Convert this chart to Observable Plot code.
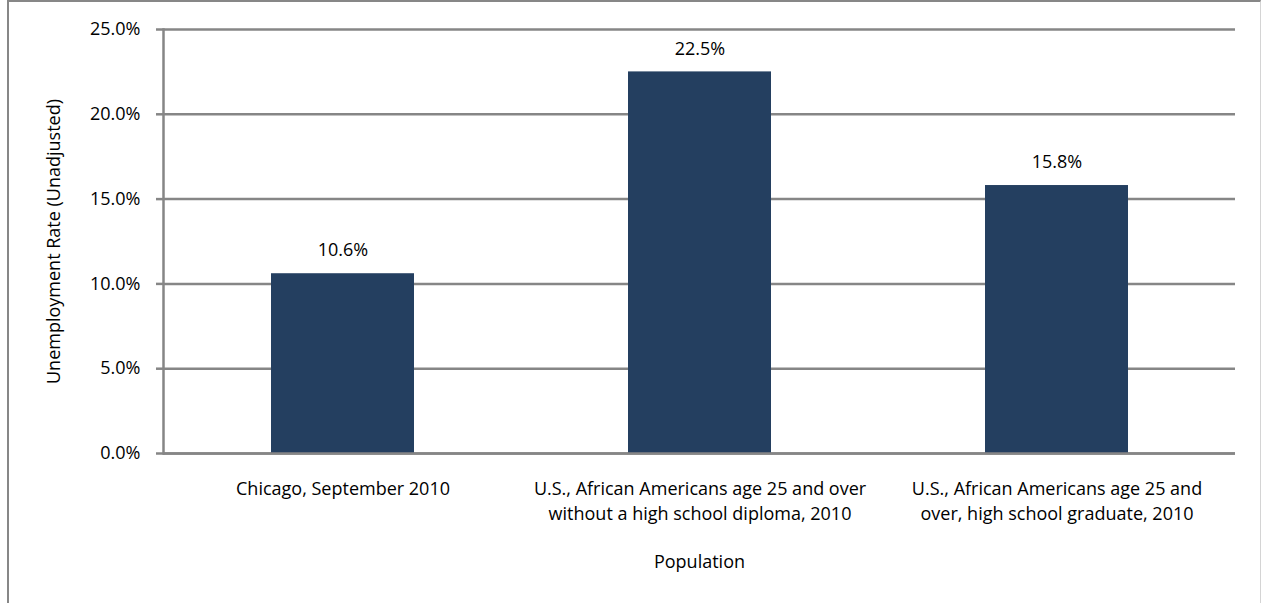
<!DOCTYPE html>
<html>
<head>
<meta charset="utf-8">
<script src="https://cdn.jsdelivr.net/npm/d3@7"></script>
<script src="https://cdn.jsdelivr.net/npm/@observablehq/plot@0.6"></script>
<style>
  html, body { margin: 0; padding: 0; background: #fff; overflow: hidden; }
  #wrap { position: relative; width: 1263px; height: 603px; }
  #border { position: absolute; left: 7px; top: 0px; width: 1254px; height: 620px;
            border-top: 2px solid #878787; border-left: 2px solid #878787;
            border-right: 1px solid #d4d4d4; box-sizing: border-box; }
  #chart { position: absolute; left: 0; top: 0; }
</style>
</head>
<body>
<div id="wrap"><div id="border"></div><div id="chart"></div></div>
<script>
const categories = [
  "Chicago, September 2010",
  "U.S., African Americans age 25 and over\nwithout a high school diploma, 2010",
  "U.S., African Americans age 25 and\nover, high school graduate, 2010"
];
const rates = [0.106, 0.225, 0.158];
const yTicks = [0, 0.05, 0.10, 0.15, 0.20, 0.25];
const yTitle = "Unemployment Rate (Unadjusted)";
const xTitle = "Population";

const data = categories.map((c, i) => ({category: c, rate: rates[i]}));
const fmt = d3.format(".1%");
const gridColor = "#868686";
const font = "'Open Sans', sans-serif";

const chart = Plot.plot({
  width: 1263,
  height: 603,
  marginTop: 29,
  marginRight: 28,
  marginBottom: 150,
  marginLeft: 163,
  style: {fontFamily: font, fontSize: "18px", color: "#000", background: "transparent"},
  x: {type: "band", domain: categories, paddingInner: 0.6, paddingOuter: 0.3, label: null},
  y: {domain: [0, 0.25], label: null},
  marks: [
    Plot.ruleY(yTicks, {stroke: gridColor, strokeWidth: 2.5}),
    Plot.barY(data, {x: "category", y: "rate", fill: "#243f60"}),
    Plot.frame({anchor: "left", stroke: gridColor, strokeWidth: 2.5}),
    Plot.ruleY([0], {stroke: gridColor, strokeWidth: 2.5}),
    Plot.axisY({ticks: yTicks, tickFormat: fmt, tickSize: 7, tickPadding: 16, stroke: gridColor, strokeWidth: 2.5, label: null, fill: "#000", fontSize: 18}),
    Plot.axisX({tickSize: 0, tickPadding: 24, lineHeight: 1.39, label: null, fill: "#000", fontSize: 18}),
    Plot.text(data, {x: "category", y: "rate", text: d => fmt(d.rate), dy: -23, fill: "#000", fontSize: 18}),
    Plot.text([xTitle], {frameAnchor: "bottom", dy: 114, fill: "#000", fontSize: 18}),
    Plot.text([yTitle], {frameAnchor: "left", textAnchor: "middle", rotate: -90, dx: -109, fill: "#000", fontSize: 18})
  ]
});
document.getElementById("chart").appendChild(chart);
</script>
</body>
</html>
